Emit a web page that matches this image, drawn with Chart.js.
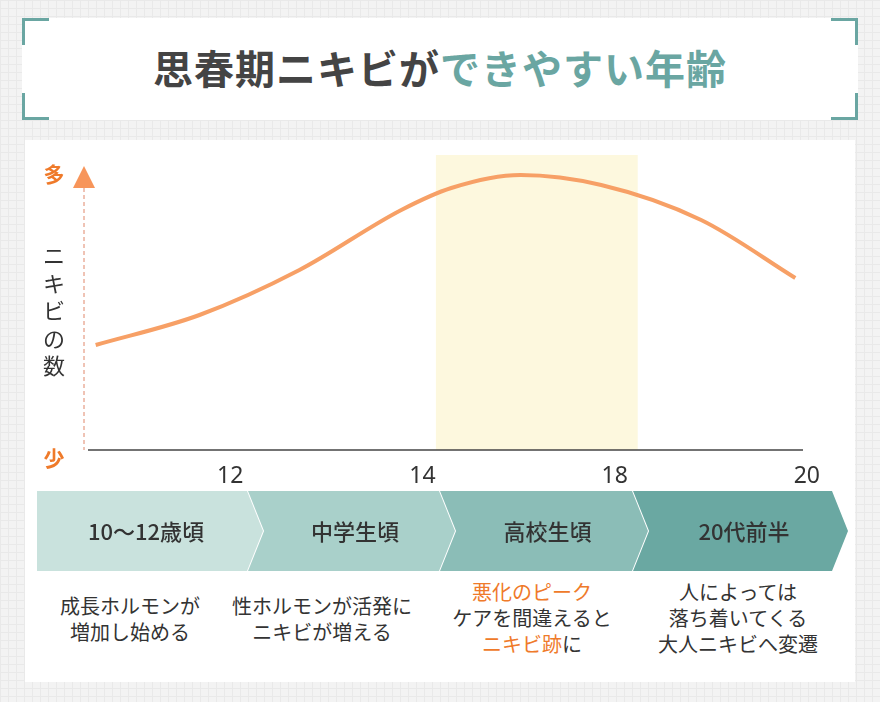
<!DOCTYPE html>
<html><head><meta charset="utf-8">
<script src="https://cdn.jsdelivr.net/npm/chart.js@4"></script>
<style>
body{margin:0;width:880px;height:702px;overflow:hidden;font-family:"Noto Sans CJK JP",sans-serif;
background-color:#f3f3f3;background-image:linear-gradient(#e9e9e9 1px,transparent 1px),linear-gradient(90deg,#e9e9e9 1px,transparent 1px);background-size:8px 8px;position:relative}
.box{position:absolute;background:#fff}
#title{left:22px;top:18px;width:836px;height:102px}
.br{position:absolute;width:24px;height:24px;border-color:#6aa6a2;border-style:solid;border-width:0}
#t{position:absolute;left:0;right:0;top:20px;text-align:center;font-size:40px;font-weight:bold;color:#444;letter-spacing:1px}
#panel{left:25px;top:140px;width:830px;height:542px}
canvas{position:absolute;left:0;top:0}
.d{position:absolute;text-align:center;font-size:20px;color:#333;line-height:26px;width:220px}
.o{color:#ef7a2a}
</style></head><body>
<div class="box" id="title">
<div class="br" style="left:0;top:0;border-left-width:3px;border-top-width:3px"></div>
<div class="br" style="right:0;top:0;border-right-width:3px;border-top-width:3px"></div>
<div class="br" style="left:0;bottom:0;border-left-width:3px;border-bottom-width:3px"></div>
<div class="br" style="right:0;bottom:0;border-right-width:3px;border-bottom-width:3px"></div>
<div id="t">思春期ニキビが<span style="color:#6aa6a2">できやすい年齢</span></div>
</div>
<div class="box" id="panel"></div>
<div class="d" style="left:20px;top:593px">成長ホルモンが<br>増加し始める</div>
<div class="d" style="left:212px;top:593px">性ホルモンが活発に<br>ニキビが増える</div>
<div class="d" style="left:422px;top:579px"><span class="o">悪化のピーク</span><br>ケアを間違えると<br><span class="o">ニキビ跡</span>に</div>
<div class="d" style="left:628px;top:579px">人によっては<br>落ち着いてくる<br>大人ニキビへ変遷</div>
<canvas id="c" width="880" height="702"></canvas>
<script>
const tickLabels=["12","14","18","20"];
const tickPos=[1,2,3,4];
const curveX=[0.30,0.84,1.36,1.89,2.15,2.51,2.93,3.45,3.94];
const curveY=[105,135,180,240,262,275,265,230,172];
const bandRange=[2.07,3.12];
const stages=["10〜12歳頃","中学生頃","高校生頃","20代前半"];
const stageColors=["#c9e2dd","#a9d0ca","#8bbdb7","#6aa8a2"];

const deco={id:'deco',
beforeDatasetsDraw(ch){const {ctx,chartArea:a,scales:{x,y}}=ch;
 ctx.save();ctx.fillStyle='#fdf8de';
 const b0=x.getPixelForValue(bandRange[0]),b1=x.getPixelForValue(bandRange[1]);
 ctx.fillRect(b0,a.top,b1-b0,a.bottom-a.top);
 ctx.strokeStyle='#444';ctx.lineWidth=1.5;ctx.beginPath();ctx.moveTo(a.left,a.bottom);ctx.lineTo(a.right,a.bottom);ctx.stroke();
 ctx.strokeStyle='#e0876a';ctx.lineWidth=1;ctx.setLineDash([4,3]);ctx.beginPath();ctx.moveTo(84,188);ctx.lineTo(84,a.bottom);ctx.stroke();ctx.setLineDash([]);
 ctx.fillStyle='#f7955a';ctx.beginPath();ctx.moveTo(84,166);ctx.lineTo(95,188);ctx.lineTo(73,188);ctx.closePath();ctx.fill();
 ctx.font='bold 21px "Noto Sans CJK JP"';ctx.fillStyle='#ef7a2a';ctx.textAlign='center';ctx.textBaseline='middle';
 ctx.fillText('多',54,174);ctx.fillText('少',54,458);
 ctx.fillStyle='#333';ctx.font='22px "Noto Sans CJK JP"';
 ['ニ','キ','ビ','の','数'].forEach((c,i)=>ctx.fillText(c,54,256+i*27.5));
 ctx.font='23px "Noto Sans", sans-serif';
 tickPos.forEach((v,i)=>ctx.fillText(tickLabels[i],x.getPixelForValue(v),476));
 const tips=[263,455,648,848],top=491,bot=571,mid=531,dp=16;
 for(let i=3;i>=0;i--){const l=i==0?37:tips[i-1]-dp;ctx.fillStyle=stageColors[i];ctx.beginPath();
  ctx.moveTo(l,top);ctx.lineTo(tips[i]-dp,top);ctx.lineTo(tips[i],mid);ctx.lineTo(tips[i]-dp,bot);ctx.lineTo(l,bot);
  if(i>0)ctx.lineTo(l+dp,mid);ctx.closePath();ctx.fill();
  if(i>0){ctx.strokeStyle='#fff';ctx.lineWidth=2;ctx.beginPath();ctx.moveTo(l,top);ctx.lineTo(l+dp,mid);ctx.lineTo(l,bot);ctx.stroke();}}
 ctx.fillStyle='#333';ctx.font='500 22px "Noto Sans CJK JP"';
 stages.forEach((s,i)=>{const l=i==0?37:tips[i-1];ctx.fillText(s,(l+tips[i]-dp)/2+4,mid+1);});
 ctx.restore();}};
new Chart(document.getElementById('c'),{type:'line',
data:{datasets:[{data:curveX.map((v,i)=>({x:v,y:curveY[i]})),borderColor:'#f7a066',borderWidth:4,pointRadius:0,cubicInterpolationMode:'monotone',fill:false}]},
options:{responsive:false,animation:false,layout:{padding:{left:88,right:77,top:155,bottom:252}},
plugins:{legend:{display:false},tooltip:{enabled:false}},
scales:{x:{type:'linear',min:0.26,max:3.98,display:false},y:{min:0,max:295,display:false}}},
plugins:[deco]});
</script></body></html>
